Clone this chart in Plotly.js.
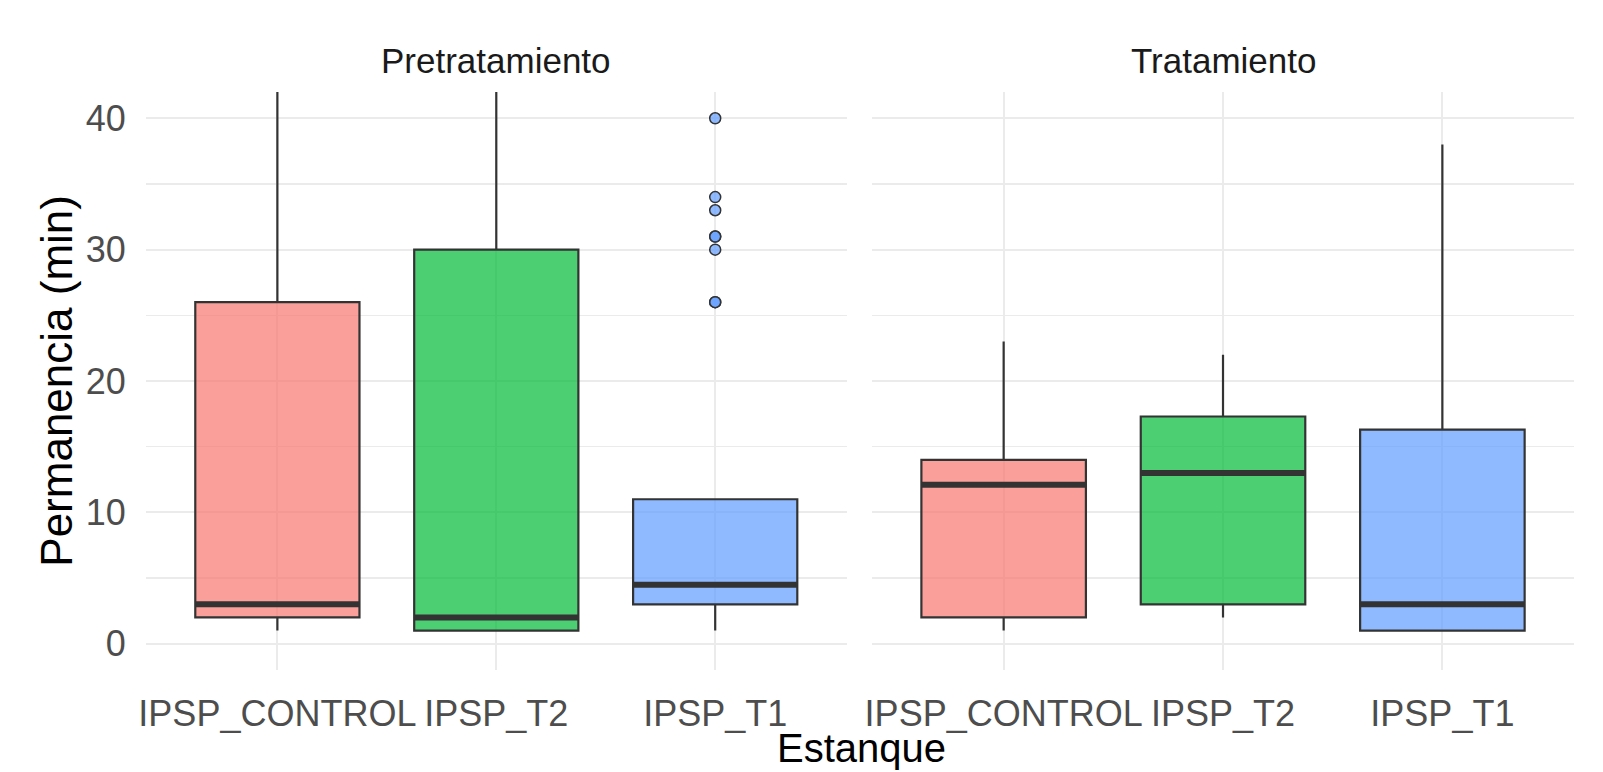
<!DOCTYPE html>
<html>
<head>
<meta charset="utf-8">
<script src="https://cdn.plot.ly/plotly-3.0.1.min.js"></script>
<style>html,body{margin:0;padding:0;background:#fff;}#chart{width:1603px;height:772px;}</style>
</head>
<body>
<div id="chart"></div>
<script>
// ---- data ----
const categories = ["IPSP_CONTROL", "IPSP_T2", "IPSP_T1"];
const panels = ["Pretratamiento", "Tratamiento"];
const colors = ["rgba(248,118,109,0.7)", "rgba(0,186,56,0.7)", "rgba(97,156,255,0.7)"];

// Pretratamiento
const preLower  = [1, 1, 1];
const preQ1     = [2, 1, 3];
const preMedian = [3, 2, 4.5];
const preQ3     = [26, 30, 11];
const preUpper  = [60, 65, 11];
const preOutliersT1 = [40, 34, 33, 31, 31, 30, 26, 26];

// Tratamiento
const trLower  = [1, 2, 1];
const trQ1     = [2, 3, 1];
const trMedian = [12.1, 13, 3];
const trQ3     = [14, 17.3, 16.3];
const trUpper  = [23, 22, 38];

const yTicks = [0, 10, 20, 30, 40];

// ---- build ----
const stats = [
  {lower: preLower, q1: preQ1, med: preMedian, q3: preQ3, upper: preUpper},
  {lower: trLower, q1: trQ1, med: trMedian, q3: trQ3, upper: trUpper}
];
const traces = [];
const shapes = [];
const boxW = 0.75;
stats.forEach((s, p) => {
  const xa = p === 0 ? "x" : "x2";
  const ya = p === 0 ? "y" : "y2";
  categories.forEach((c, i) => {
    traces.push({
      type: "box", x: [c], q1: [s.q1[i]], median: [s.med[i]], q3: [s.q3[i]],
      lowerfence: [s.lower[i]], upperfence: [s.upper[i]],
      xaxis: xa, yaxis: ya, width: boxW, whiskerwidth: 0,
      fillcolor: colors[i], line: {color: "#333333", width: 2.2},
      boxpoints: false, showlegend: false, hoverinfo: "y"
    });
    shapes.push({
      type: "line", xref: xa, yref: ya, layer: "above",
      x0: i - boxW / 2, x1: i + boxW / 2, y0: s.med[i], y1: s.med[i],
      line: {color: "#333333", width: 6}
    });
  });
});
traces.push({
  type: "scatter", mode: "markers", xaxis: "x", yaxis: "y",
  x: preOutliersT1.map(() => categories[2]), y: preOutliersT1,
  marker: {size: 11, color: "rgba(97,156,255,0.7)", line: {color: "#333333", width: 1.5}},
  showlegend: false, hoverinfo: "y"
});

const font = "Liberation Sans, Arial, sans-serif";
const xBase = {
  type: "category", categoryarray: categories, categoryorder: "array",
  range: [-0.6, 2.6], showgrid: true, gridcolor: "#EBEBEB", gridwidth: 2,
  zeroline: false, showline: false, ticks: "outside", ticklen: 12, tickcolor: "rgba(0,0,0,0)",
  tickfont: {family: font, size: 36, color: "#4D4D4D"}, automargin: false, fixedrange: true
};
const yBase = {
  range: [-2, 42], tickvals: yTicks, showgrid: true, gridcolor: "#EBEBEB", gridwidth: 2,
  minor: {dtick: 5, showgrid: true, gridcolor: "#EBEBEB", gridwidth: 1.5},
  zeroline: false, showline: false, ticks: "outside", ticklen: 12, tickcolor: "rgba(0,0,0,0)",
  tickfont: {family: font, size: 36, color: "#4D4D4D"}, automargin: false, fixedrange: true,
  domain: [0.1321, 0.8808]
};
const layout = {
  width: 1603, height: 772,
  margin: {l: 0, r: 0, t: 0, b: 0},
  paper_bgcolor: "#ffffff", plot_bgcolor: "#ffffff",
  boxmode: "overlay",
  xaxis: Object.assign({}, xBase, {domain: [0.0911, 0.5281], anchor: "y"}),
  xaxis2: Object.assign({}, xBase, {domain: [0.544, 0.9819], anchor: "y2"}),
  yaxis: Object.assign({}, yBase, {anchor: "x"}),
  yaxis2: Object.assign({}, yBase, {anchor: "x2", matches: "y", showticklabels: false}),
  shapes: shapes,
  annotations: [
    {text: panels[0], xref: "paper", yref: "paper", x: (0.0911 + 0.5281) / 2, y: 0.921,
     xanchor: "center", yanchor: "middle", showarrow: false, font: {family: font, size: 35, color: "#1A1A1A"}},
    {text: panels[1], xref: "paper", yref: "paper", x: (0.544 + 0.9819) / 2, y: 0.921,
     xanchor: "center", yanchor: "middle", showarrow: false, font: {family: font, size: 35, color: "#1A1A1A"}},
    {text: "Permanencia (min)", xref: "paper", yref: "paper", x: 0.035, y: 0.507, textangle: -90,
     xanchor: "center", yanchor: "middle", showarrow: false, font: {family: font, size: 44, color: "#000000"}},
    {text: "Estanque", xref: "paper", yref: "paper", x: 0.5375, y: 0.0,
     xanchor: "center", yanchor: "bottom", showarrow: false, font: {family: font, size: 40, color: "#000000"}}
  ],
  showlegend: false
};
Plotly.newPlot("chart", traces, layout, {displayModeBar: false, staticPlot: true});
</script>
</body>
</html>
